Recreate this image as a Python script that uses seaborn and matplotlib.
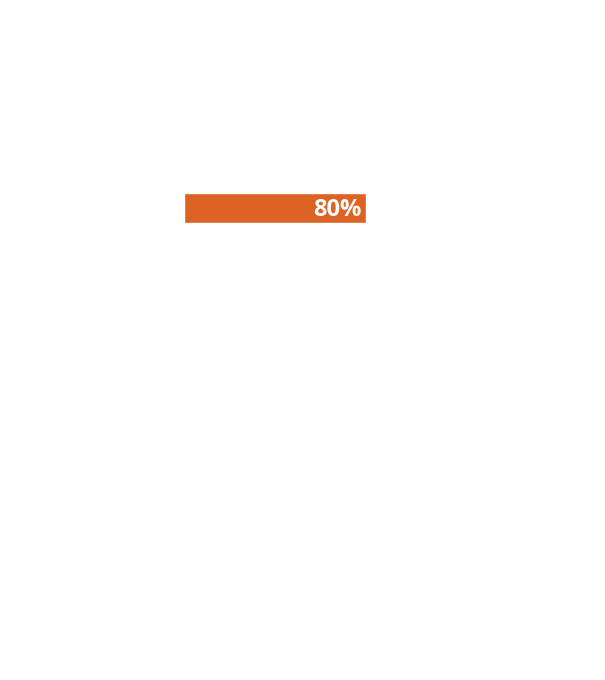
import matplotlib
matplotlib.use("Agg")
import matplotlib.pyplot as plt
import seaborn as sns
import pandas as pd

categories = ["Share"]
values = [80]
labels = ["80%"]

sns.set_style("white")
plt.rcParams["font.family"] = ["Open Sans", "DejaVu Sans"]

df = pd.DataFrame({"category": categories, "value": values})

fig = plt.figure(figsize=(6.05, 6.8), dpi=100)
ax = fig.add_axes([184.3 / 605, 1 - 223.3 / 680, 227.5 / 605, 30 / 680])

sns.barplot(data=df, x="value", y="category", orient="h", color="#DD6325",
            saturation=1, width=1.0, ax=ax)

ax.set_xlim(0, 100)
ax.set_ylim(0.5, -0.5)
ax.axis("off")

for i, (v, lab) in enumerate(zip(values, labels)):
    ax.annotate(lab, xy=(v, i), xytext=(-3.5, -1), textcoords="offset points",
                ha="right", va="center", color="white", fontsize=17,
                fontweight="bold")

fig.savefig("out.png", dpi=100)
